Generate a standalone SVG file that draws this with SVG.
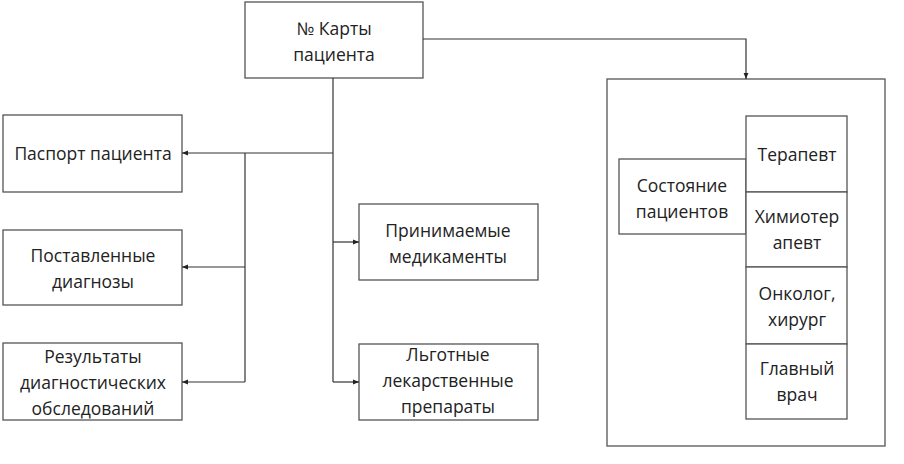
<svg xmlns="http://www.w3.org/2000/svg" width="904" height="464" viewBox="0 0 904 464">
<style>
.box{fill:#fff;stroke:#555;stroke-width:1.3}
.t{font-family:"Open Sans","Liberation Sans",sans-serif;font-size:17.5px;fill:#222;text-anchor:middle}
.c{fill:none;stroke:#333;stroke-width:1.2}
</style>
<defs>
<marker id="a" viewBox="0 0 10 10" refX="10" refY="5" markerWidth="6" markerHeight="6" orient="auto" markerUnits="userSpaceOnUse">
<path d="M0,1 L10,5 L0,9 Z" fill="#222"/>
</marker>
</defs>
<rect width="904" height="464" fill="#fff"/>
<g id="container"><rect class="box" x="607" y="79" width="278" height="367"/></g>
<g id="card"><rect class="box" x="245" y="2" width="178" height="76"/>
<text class="t" x="334" y="35">№ Карты</text><text class="t" x="334" y="61">пациента</text></g>
<g id="passport"><rect class="box" x="3" y="115" width="179" height="77"/>
<text class="t" x="93" y="160">Паспорт пациента</text></g>
<g id="diagnoses"><rect class="box" x="3" y="230" width="179" height="75"/>
<text class="t" x="93" y="262">Поставленные</text><text class="t" x="93" y="288">диагнозы</text></g>
<g id="results"><rect class="box" x="3" y="343" width="179" height="77"/>
<text class="t" x="93" y="363">Результаты</text><text class="t" x="93" y="389">диагностических</text><text class="t" x="93" y="415">обследований</text></g>
<g id="meds"><rect class="box" x="359" y="204" width="179" height="76"/>
<text class="t" x="448" y="237">Принимаемые</text><text class="t" x="448" y="263">медикаменты</text></g>
<g id="privileged"><rect class="box" x="359" y="344" width="179" height="76"/>
<text class="t" x="448" y="361">Льготные</text><text class="t" x="448" y="387">лекарственные</text><text class="t" x="448" y="413">препараты</text></g>
<g id="state"><rect class="box" x="619" y="159" width="127" height="75"/>
<text class="t" x="682" y="192">Состояние</text><text class="t" x="682" y="218">пациентов</text></g>
<g id="therapist"><rect class="box" x="746" y="116" width="101" height="76"/>
<text class="t" x="797" y="161">Терапевт</text></g>
<g id="chemo"><rect class="box" x="746" y="192" width="101" height="75"/>
<text class="t" x="797" y="223">Химиотер</text><text class="t" x="797" y="249">апевт</text></g>
<g id="oncologist"><rect class="box" x="746" y="267" width="101" height="77"/>
<text class="t" x="797" y="300">Онколог,</text><text class="t" x="797" y="326">хирург</text></g>
<g id="chief"><rect class="box" x="746" y="344" width="101" height="75"/>
<text class="t" x="797" y="375">Главный</text><text class="t" x="797" y="401">врач</text></g>
<g id="connectors">
<path class="c" d="M423,39 H746 V79" marker-end="url(#a)"/>
<path class="c" d="M333,78 V382"/>
<path class="c" d="M333,153 H182" marker-end="url(#a)"/>
<path class="c" d="M245,153 V382"/>
<path class="c" d="M245,267 H182" marker-end="url(#a)"/>
<path class="c" d="M245,382 H182" marker-end="url(#a)"/>
<path class="c" d="M333,242 H359" marker-end="url(#a)"/>
<path class="c" d="M333,382 H359" marker-end="url(#a)"/>
</g>
</svg>
